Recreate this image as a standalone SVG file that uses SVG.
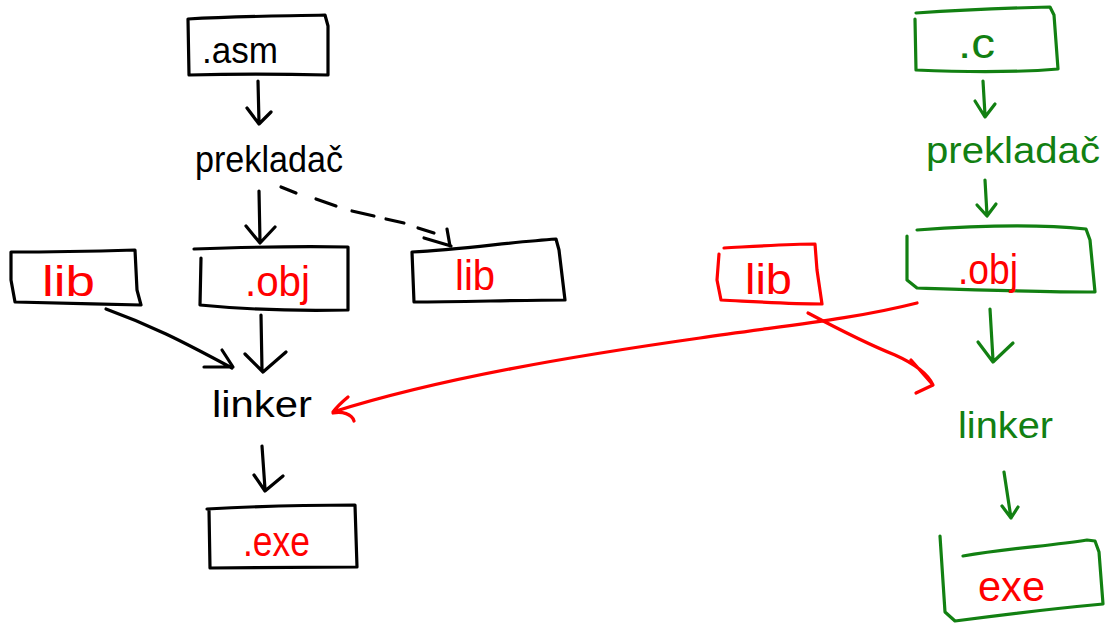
<svg xmlns="http://www.w3.org/2000/svg" width="1108" height="626" viewBox="0 0 1108 626">
<style>
.s{fill:none;stroke-width:3.2;stroke-linecap:round;stroke-linejoin:round}
.k{stroke:#000}
.g{stroke:#128012}
.r{stroke:#f00}
.t{font-family:"Liberation Sans","DejaVu Sans",sans-serif;font-size:36px}
.b{font-size:42px}
.tk{fill:#000}
.tg{fill:#128012}
.tr{fill:#f00}
</style>
<rect width="1108" height="626" fill="#fff"/>
<g id="connectors">
  <path class="s k" d="M258,81 L259,123 M247,108 L259,124 L271,112"/>
  <path class="s k" d="M259,191 L260,242 M246,226 L260,243 L275,227"/>
  <path class="s k" d="M281,187 L296,193 M316,199 L336,206 M352,211 L374,216 M386,219 L404,223 M418,228 L434,233 M424,238 L451,246 M447,229 L450,246"/>
  <path class="s k" d="M106,309 C150,325 180,340 232,368 M204,367 L233,367 L222,350"/>
  <path class="s k" d="M261,315 L262,370 M245,354 L263,372 L286,352"/>
  <path class="s k" d="M262,446 L265,489 M254,475 L265,491 L283,476"/>
  <path class="s r" d="M917,303 C850,320 780,326 700,338 C580,355 440,378 333,412 C336,408 342,402 348,397 M333,413 C342,411 352,414 354,421"/>
  <path class="s g" d="M983,81 L985,115 M975,101 L985,117 L995,104"/>
  <path class="s g" d="M985,180 L987,215 M977,205 L987,216 L996,204"/>
  <path class="s r" d="M808,313 C840,330 870,345 895,355 C915,364 928,374 933,385 M911,360 L933,385 L916,393"/>
  <path class="s g" d="M990,309 L993,360 M978,342 L993,362 L1013,343"/>
  <path class="s g" d="M1004,472 L1011,518 M1002,506 L1011,518 L1018,507"/>
</g>
<g id="node-asm">
  <path class="s k" d="M188,19 C240,16 290,16 325,15 L328,26 L328,75 C280,74 230,74 189,75 L188,19"/>
  <text class="t tk" x="202" y="63" textLength="76" lengthAdjust="spacingAndGlyphs">.asm</text>
</g>
<g id="node-prekladac-left">
  <text class="t tk" x="195" y="172" textLength="148" lengthAdjust="spacingAndGlyphs">prekladač</text>
</g>
<g id="node-lib-left">
  <path class="s k" d="M11,252 C50,252 100,251 135,250 L137,290 L141,305 C100,304 50,303 15,302 L11,280 Z"/>
  <text class="t b tr" x="42" y="296" textLength="53" lengthAdjust="spacingAndGlyphs">lib</text>
</g>
<g id="node-obj-left">
  <path class="s k" d="M194,249 C250,247 300,246 348,247 L348,310 C300,311 250,310 200,305 L201,258"/>
  <text class="t b tr" x="245" y="296" textLength="65" lengthAdjust="spacingAndGlyphs">.obj</text>
</g>
<g id="node-lib-mid">
  <path class="s k" d="M412,252 C460,250 510,242 556,239 L559,250 L565,300 C520,300 460,302 414,302 L412,252"/>
  <text class="t b tr" x="455" y="290" textLength="40" lengthAdjust="spacingAndGlyphs">lib</text>
</g>
<g id="node-linker-left">
  <text class="t tk" x="212" y="417" textLength="100" lengthAdjust="spacingAndGlyphs">linker</text>
</g>
<g id="node-exe-left">
  <path class="s k" d="M207,509 C260,506 310,505 355,505 L357,567 C300,567 250,568 210,568 L209,510"/>
  <text class="t b tr" x="243" y="556" textLength="67" lengthAdjust="spacingAndGlyphs">.exe</text>
</g>
<g id="node-c">
  <path class="s g" d="M916,13 C960,10 1010,8 1050,7 L1054,15 L1058,69 C1010,73 960,72 916,70 L915,19"/>
  <text class="t b tg" x="958" y="58" textLength="37" lengthAdjust="spacingAndGlyphs">.c</text>
</g>
<g id="node-prekladac-right">
  <text class="t tg" x="926" y="163" textLength="174" lengthAdjust="spacingAndGlyphs">prekladač</text>
</g>
<g id="node-lib-right">
  <path class="s r" d="M724,248 C760,246 790,244 815,244 L817,270 L822,304 C790,304 760,302 721,300 L717,280 L719,254"/>
  <text class="t b tr" x="745" y="294" textLength="47" lengthAdjust="spacingAndGlyphs">lib</text>
</g>
<g id="node-obj-right">
  <path class="s g" d="M917,230 C970,226 1030,223 1086,229 L1090,240 L1095,292 C1040,292 980,290 917,288 L907,280 L907,236"/>
  <text class="t b tr" x="958" y="284" textLength="60" lengthAdjust="spacingAndGlyphs">.obj</text>
</g>
<g id="node-linker-right">
  <text class="t tg" x="958" y="438" textLength="95" lengthAdjust="spacingAndGlyphs">linker</text>
</g>
<g id="node-exe-right">
  <path class="s g" d="M963,556 C1010,548 1050,546 1087,540 L1095,541 L1099,552 L1103,604 C1060,608 1000,615 955,621 L945,612 L940,536"/>
  <text class="t b tr" x="978" y="601" textLength="67" lengthAdjust="spacingAndGlyphs">exe</text>
</g>
</svg>
